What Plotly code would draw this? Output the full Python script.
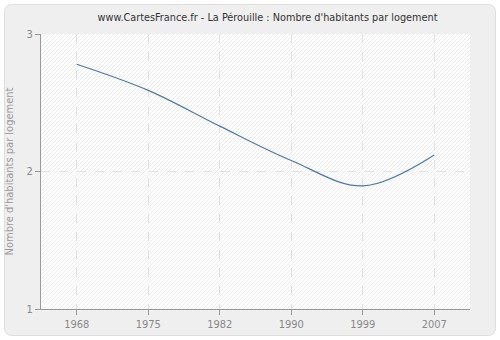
import base64
import plotly.graph_objects as go

years = ["1968", "1975", "1982", "1990", "1999", "2007"]
values = [2.78, 2.59, 2.33, 2.08, 1.895, 2.12]
title = "www.CartesFrance.fr - La Pérouille : Nombre d'habitants par logement"
y_title = "Nombre d'habitants par logement"
y_ticks = [1, 2, 3]

L, R, T, B = 41, 30, 34, 31
W, H = 500, 340
pw, ph = W - L - R, H - T - B

FONT = "DejaVu Sans Condensed, Liberation Sans, sans-serif"

# background: rounded grey frame + hatched plot area
svg = f'''<svg xmlns="http://www.w3.org/2000/svg" width="{W}" height="{H}" viewBox="0 0 {W} {H}">
<defs>
<pattern id="a" width="4" height="4" patternUnits="userSpaceOnUse">
<rect width="4" height="4" fill="#ffffff"/>
<path d="M-1,1 L1,-1 M0,4 L4,0 M3,5 L5,3" stroke="#ebebeb" stroke-width="1"/>
</pattern>
<pattern id="b" width="4" height="4" patternUnits="userSpaceOnUse">
<rect width="4" height="4" fill="#fbfbfb"/>
<path d="M-1,1 L1,-1 M0,4 L4,0 M3,5 L5,3" stroke="#f1f1f1" stroke-width="1"/>
</pattern>
</defs>
<rect x="0" y="0" width="{W}" height="{H}" fill="#ffffff"/>
<rect x="4.5" y="4.5" width="{W-9}" height="{H-9}" rx="7" ry="7" fill="#efefef" stroke="#dedede" stroke-width="1"/>
<rect x="{L}" y="{T}" width="{pw}" height="{ph/2}" fill="url(#a)"/>
<rect x="{L}" y="{T+ph/2}" width="{pw}" height="{ph/2}" fill="url(#b)"/>
</svg>'''
src = "data:image/svg+xml;base64," + base64.b64encode(svg.encode()).decode()

fig = go.Figure()
fig.add_trace(go.Scatter(
    x=years, y=values, mode="lines",
    line=dict(color="#4f77aa", width=1.2, shape="spline", smoothing=1.0),
    hoverinfo="skip", showlegend=False,
))

fig.update_layout(
    width=W, height=H,
    margin=dict(l=L, r=R, t=T, b=B, autoexpand=False),
    paper_bgcolor="white",
    plot_bgcolor="rgba(0,0,0,0)",
    font=dict(family=FONT, size=11, color="#888"),
    title=dict(text=title, x=267.5/W, xanchor="center", y=1 - 17/H, yanchor="middle",
               font=dict(family=FONT, size=10.8, color="#333")),
    images=[dict(source=src, xref="paper", yref="paper",
                 x=-L/pw, y=1 + T/ph, sizex=W/pw, sizey=H/ph,
                 xanchor="left", yanchor="top", sizing="stretch", layer="below")],
    xaxis=dict(type="category", range=[-0.5, 5.5], showgrid=True,
               gridcolor="#e2e2e2", griddash="dash", gridwidth=1,
               showline=True, linecolor="#999", linewidth=1,
               ticks="outside", ticklen=5, tickcolor="#999",
               tickfont=dict(size=11, color="#888"), zeroline=False, fixedrange=True,
               automargin=False),
    yaxis=dict(range=[1, 3], tickvals=y_ticks, showgrid=True,
               gridcolor="#e2e2e2", griddash="dash", gridwidth=1,
               showline=True, linecolor="#999", linewidth=1,
               ticks="outside", ticklen=5, tickcolor="#999",
               tickfont=dict(size=11, color="#888"), zeroline=False,
               title=dict(text=y_title, font=dict(size=11, color="#999"), standoff=10),
               fixedrange=True, automargin=False),
)

fig.write_html("out.html")
